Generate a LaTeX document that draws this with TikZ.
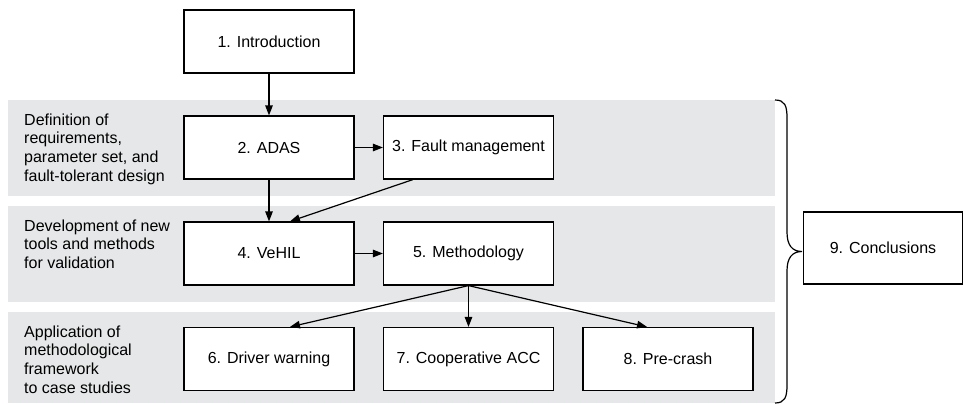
\documentclass[tikz,border=0pt]{standalone}
\usepackage{fontspec}
\setmainfont{Liberation Sans}
\usetikzlibrary{arrows.meta,calc}
\definecolor{bandgray}{HTML}{E6E7E8}
\begin{document}
\begin{tikzpicture}[x=1pt,y=-1pt,
  box/.style={draw, line width=1.2pt, fill=white, minimum width=170pt, minimum height=63pt, inner sep=0pt, font=\fontsize{16}{19}\selectfont},
  band/.style={fill=bandgray, draw=none},
  lbl/.style={anchor=north west, align=left, inner sep=0pt, font=\fontsize{16}{18.7}\selectfont},
  arr/.style={line width=1.2pt, -{Triangle[length=10pt,width=7.5pt]}},
  bracepath/.style={line width=1.2pt}]
\useasboundingbox (0,0) rectangle (964,404);
% bands
\fill[band] (8,100) rectangle (775,196);
\fill[band] (8,206) rectangle (775,302);
\fill[band] (8,312) rectangle (775,403);
% labels
\node[lbl] (l1) at (24,113.5) {Definition of\\requirements,\\parameter set, and\\fault-tolerant design};
\node[lbl] (l2) at (24,219.5) {Development of new\\tools and methods\\for validation};
\node[lbl] (l3) at (24,325.5) {Application of\\methodological\\framework\\to case studies};
% boxes
\node[box] (b1) at (269,41.5) {1. Introduction};
\node[box] (b2) at (269,147.5) {2. ADAS};
\node[box] (b3) at (468.5,147.5) {3. Fault management};
\node[box] (b4) at (269,253.5) {4. VeHIL};
\node[box] (b5) at (468.5,253.5) {5. Methodology};
\node[box] (b6) at (269,359) {6. Driver warning};
\node[box] (b7) at (468.5,359) {7. Cooperative ACC};
\node[box] (b8) at (668,359) {8. Pre-crash};
\node[box, minimum width=159pt, minimum height=72pt] (b9) at (883,248) {9. Conclusions};
% arrows
\draw[arr] (b1) -- (b2);
\draw[arr] (b2) -- (b3);
\draw[arr] (b2) -- (b4);
\draw[arr] ($(b3.south west)+(30,0)$) -- ($(b4.north)+(21,0)$);
\draw[arr] (b4) -- (b5);
\draw[arr] (b5.south) -- ($(b6.north)+(21,0)$);
\draw[arr] (b5.south) -- (b7.north);
\draw[arr] (b5.south) -- ($(b8.north)+(-21,0)$);
% brace
\coordinate (tip) at (802,251.5);
\draw[bracepath] (775,100) .. controls (785,100) and (787,106) .. (787,118) -- (787,232)
  .. controls (787,245) and (792,251.5) .. (tip)
  .. controls (792,251.5) and (787,258) .. (787,271) -- (787,385)
  .. controls (787,397) and (785,403) .. (775,403);
\end{tikzpicture}
\end{document}
